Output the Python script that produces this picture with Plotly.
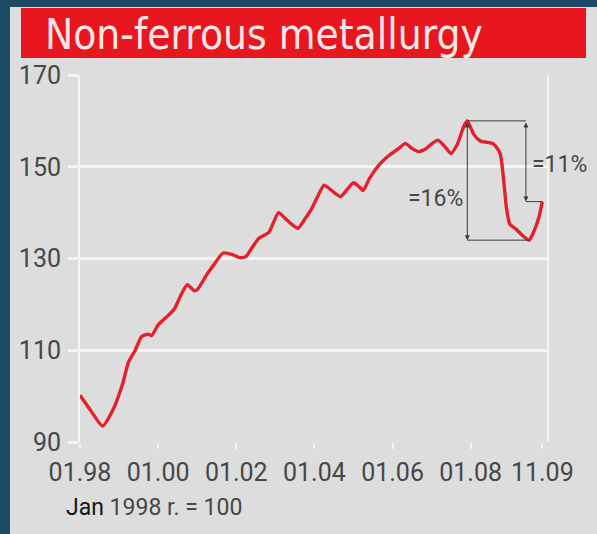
import plotly.graph_objects as go

# Monthly index of non-ferrous metallurgy output, Jan 1998 = 100
dates = [
    "1998-01", "1998-04", "1998-08", "1998-11", "1999-02", "1999-04", "1999-06",
    "1999-08", "1999-10", "1999-11", "2000-01", "2000-04", "2000-06", "2000-08",
    "2000-10", "2000-12", "2001-01", "2001-04", "2001-06", "2001-09", "2001-12",
    "2002-02", "2002-04", "2002-06", "2002-08", "2002-11", "2003-02", "2003-04",
    "2003-06", "2003-08", "2003-10", "2003-12", "2004-02", "2004-04", "2004-06",
    "2004-09", "2004-11", "2005-01", "2005-03", "2005-04", "2005-06", "2005-09",
    "2005-12", "2006-03", "2006-05", "2006-07", "2006-09", "2006-11", "2007-01",
    "2007-03", "2007-05", "2007-07", "2007-09", "2007-11", "2007-12", "2008-02",
    "2008-04", "2008-08", "2008-10", "2008-11", "2008-12", "2009-01", "2009-03",
    "2009-05", "2009-07", "2009-08", "2009-10", "2009-11",
]
index_values = [
    100.2, 97.2, 93.5, 96.8, 102.5, 107.5, 110.0,
    113.0, 113.5, 113.2, 115.5, 117.5, 119.0, 122.0,
    124.3, 123.0, 123.2, 126.5, 128.5, 131.2, 130.8,
    130.2, 130.4, 132.5, 134.4, 135.7, 140.0, 138.8,
    137.5, 136.6, 138.5, 140.6, 143.5, 146.0, 145.0,
    143.5, 145.0, 146.5, 145.5, 144.8, 147.5, 150.5,
    152.5, 154.0, 155.1, 154.0, 153.3, 153.8, 155.0,
    155.8, 154.5, 152.9, 155.0, 159.0, 160.0, 157.0,
    155.6, 155.0, 153.0, 148.0, 141.0, 137.5, 136.4,
    135.0, 134.0, 135.2, 139.0, 142.4,
]

tick_dates = ["1998-01-01", "2000-01-01", "2002-01-01", "2004-01-01",
              "2006-01-01", "2008-01-01", "2009-11-01"]
tick_labels = ["01.98", "01.00", "01.02", "01.04", "01.06", "01.08", "11.09"]
y_ticks = [90, 110, 130, 150, 170]

title_text = "Non-ferrous metallurgy"
base_note = "<span style='color:#151515'>Jan</span> 1998 r. = 100"

# drop from the peak to the trough and to the latest value
peak_i = index_values.index(max(index_values))
after = index_values[peak_i:]
trough_i = peak_i + after.index(min(after))
peak_v = index_values[peak_i]
trough_v = index_values[trough_i]
last_v = index_values[-1]
drop_trough = round((1 - trough_v / peak_v) * 100)
drop_last = round((1 - last_v / peak_v) * 100)

W, H = 597, 534
L, R, T, B = 80, 50, 75, 92
PW, PH = W - L - R, H - T - B

def px(xp):
    return (xp - L) / PW

def py(yp):
    return (H - B - yp) / PH

BLUE = "#1f4a66"
PANEL = "#dddddd"
RED = "#e8161f"
INK = "#474747"
FONT = "Roboto, Liberation Sans, sans-serif"

fig = go.Figure()
fig.add_trace(go.Scatter(
    x=dates, y=index_values, mode="lines",
    line=dict(color="#e3202b", width=3.4, shape="spline", smoothing=0.6),
    hoverinfo="skip", showlegend=False,
))

shapes = [
    # light panel behind the chart
    dict(type="rect", xref="paper", yref="paper", x0=px(10), x1=px(610),
         y0=py(560), y1=py(7), fillcolor=PANEL, line=dict(width=0), layer="below"),
    # red title bar
    dict(type="rect", xref="paper", yref="paper", x0=px(21), x1=px(586),
         y0=py(58), y1=py(8), fillcolor=RED, line=dict(width=0), layer="below"),
]

bracket_right = "2009-06-01"
line_style = dict(color="#3a3a3a", width=1)
shapes += [
    dict(type="line", xref="x", yref="y", x0=dates[peak_i], x1=bracket_right,
         y0=peak_v, y1=peak_v, line=line_style),
    dict(type="line", xref="x", yref="y", x0=dates[peak_i], x1=dates[trough_i],
         y0=trough_v, y1=trough_v, line=line_style),
    dict(type="line", xref="x", yref="y", x0=bracket_right, x1=dates[-1],
         y0=last_v, y1=last_v, line=line_style),
]

annotations = [
    dict(xref="paper", yref="paper", x=px(43), y=py(34), xanchor="left",
         yanchor="middle", text=title_text, showarrow=False,
         font=dict(family="DejaVu Sans Condensed, DejaVu Sans, sans-serif",
                   size=42, color="#f6e6e6")),
    dict(xref="paper", yref="paper", x=px(64), y=py(507), xanchor="left",
         yanchor="middle", text=base_note, showarrow=False,
         font=dict(family=FONT, size=23, color=INK)),
    # double-headed arrows of the two brackets
    dict(xref="x", yref="y", axref="x", ayref="y", x=dates[peak_i], y=trough_v,
         ax=dates[peak_i], ay=peak_v, text="", showarrow=True,
         arrowside="end+start", arrowhead=2, arrowsize=1, arrowwidth=1,
         arrowcolor="#3a3a3a", standoff=0, startstandoff=0),
    dict(xref="x", yref="y", axref="x", ayref="y", x=bracket_right, y=last_v,
         ax=bracket_right, ay=peak_v, text="", showarrow=True,
         arrowside="end+start", arrowhead=2, arrowsize=1, arrowwidth=1,
         arrowcolor="#3a3a3a", standoff=0, startstandoff=0),
    dict(xref="x", yref="y", x=dates[peak_i], y=(peak_v + trough_v) / 2 - 4,
         xanchor="right", yanchor="middle", xshift=-2,
         text=f"={drop_trough}%", showarrow=False,
         font=dict(family=FONT, size=23, color=INK)),
    dict(xref="x", yref="y", x=bracket_right, y=(peak_v + last_v) / 2 - 0.8,
         xanchor="left", yanchor="middle", xshift=4,
         text=f"={drop_last}%", showarrow=False,
         font=dict(family=FONT, size=23, color=INK)),
]

fig.update_layout(
    width=W, height=H,
    margin=dict(l=L, r=R, t=T, b=B, pad=0),
    paper_bgcolor=BLUE, plot_bgcolor=PANEL,
    shapes=shapes, annotations=annotations,
    xaxis=dict(
        range=["1998-01-01", "2009-12-15"], tickvals=tick_dates,
        ticktext=tick_labels, showgrid=False, zeroline=False, tickangle=0,
        ticks="outside", ticklen=6, tickwidth=2, tickcolor="#f2f2f2",
        ticklabelstandoff=2,
        tickfont=dict(family=FONT, size=25, color=INK),
    ),
    yaxis=dict(
        range=[90, 170], tickvals=y_ticks, showgrid=True, gridcolor="#f4f4f4",
        gridwidth=2.5, zeroline=False, showline=True, mirror=True,
        linecolor="#f4f4f4", linewidth=2, ticks="outside", ticklen=10,
        tickwidth=2.5, tickcolor="#f4f4f4", ticklabelstandoff=2,
        tickfont=dict(family=FONT, size=25, color=INK),
    ),
)

fig.write_html("out.html")
